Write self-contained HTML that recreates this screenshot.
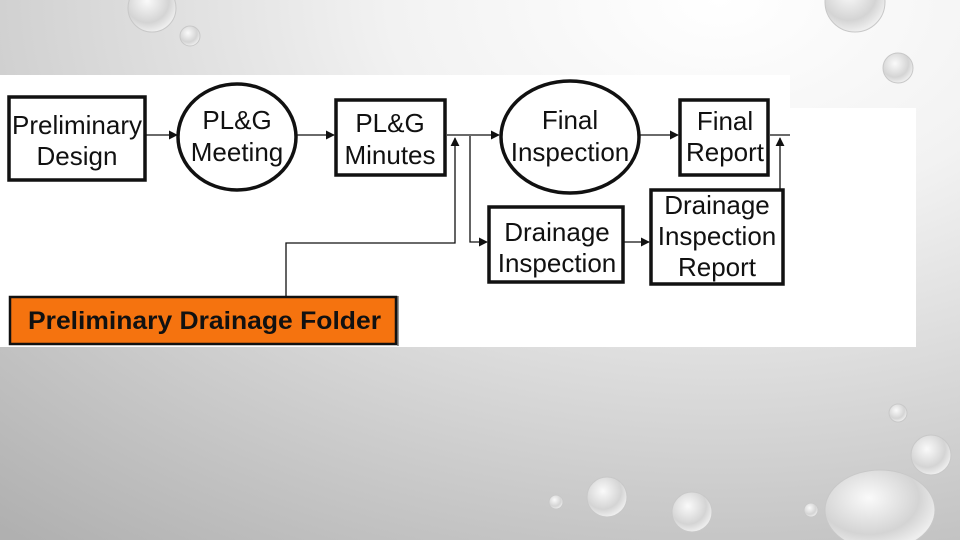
<!DOCTYPE html>
<html><head><meta charset="utf-8"><style>
html,body{margin:0;padding:0;width:960px;height:540px;overflow:hidden}
body{background:radial-gradient(ellipse 1100px 700px at 75% 0%, #ffffff 0%, #f2f2f2 30%, #d6d6d6 60%, #b0b0b0 100%);}
svg{position:absolute;left:0;top:0}
text{font-family:"Liberation Sans",sans-serif;fill:#111}
</style></head><body>
<svg width="960" height="540" viewBox="0 0 960 540">
<defs>
<radialGradient id="dr" cx="40%" cy="35%" r="65%"><stop offset="0" stop-color="#fafafa"/><stop offset="0.7" stop-color="#d4d4d4"/><stop offset="1" stop-color="#eeeeee"/></radialGradient>
<marker id="ah" viewBox="0 0 10 10" refX="9" refY="5" markerWidth="9" markerHeight="9" markerUnits="userSpaceOnUse" orient="auto"><path d="M0,0 L10,5 L0,10 z" fill="#111"/></marker>
</defs>
<g fill="url(#dr)" stroke="#c8c8c8" stroke-width="1">
<circle cx="190" cy="36" r="10"/><circle cx="152" cy="8" r="24"/><circle cx="898" cy="68" r="15"/><circle cx="855" cy="2" r="30"/>
<circle cx="898" cy="413" r="9"/><circle cx="931" cy="455" r="20"/><circle cx="607" cy="497" r="20"/><circle cx="692" cy="512" r="20"/>
<circle cx="556" cy="502" r="7"/><circle cx="811" cy="510" r="7"/><ellipse cx="880" cy="510" rx="55" ry="40"/>
</g>
<rect x="0" y="75" width="790" height="272" fill="#fff"/>
<rect x="790" y="108" width="126" height="239" fill="#fff"/>
<g fill="none" stroke="#111">
<rect x="9" y="97" width="136" height="83" stroke-width="3.5"/>
<ellipse cx="237" cy="137" rx="59" ry="53" stroke-width="3.5"/>
<rect x="336" y="100" width="109" height="75" stroke-width="3.5"/>
<ellipse cx="570" cy="137" rx="69" ry="56" stroke-width="3.5"/>
<rect x="680" y="100" width="88" height="75" stroke-width="3.5"/>
<rect x="489" y="207" width="134" height="75" stroke-width="3.5"/>
<rect x="651" y="190" width="132" height="94" stroke-width="3.5"/>
<g stroke-width="1.3">
<line x1="146" y1="135" x2="177" y2="135" marker-end="url(#ah)"/>
<line x1="296" y1="135" x2="334" y2="135" marker-end="url(#ah)"/>
<line x1="447" y1="135" x2="499" y2="135" marker-end="url(#ah)"/>
<line x1="639" y1="135" x2="678" y2="135" marker-end="url(#ah)"/>
<line x1="770" y1="135" x2="790" y2="135"/>
<polyline points="286,296 286,243 455,243 455,138" marker-end="url(#ah)"/>
<polyline points="470,136 470,242 487,242" marker-end="url(#ah)"/>
<line x1="624" y1="242" x2="649" y2="242" marker-end="url(#ah)"/>
<line x1="780" y1="189" x2="780" y2="138" marker-end="url(#ah)"/>
</g>
</g>
<rect x="10" y="297" width="386" height="47" fill="#f5730f" stroke="#111" stroke-width="2.5"/>
<line x1="398" y1="296" x2="398" y2="346" stroke="#333" stroke-width="1"/>
<text x="28" y="329" font-size="25" font-weight="bold" textLength="353" lengthAdjust="spacingAndGlyphs">Preliminary Drainage Folder</text>
<g font-size="26" text-anchor="middle">
<text x="77" y="134">Preliminary</text><text x="77" y="165">Design</text>
<text x="237" y="129">PL&amp;G</text><text x="237" y="161">Meeting</text>
<text x="390" y="132">PL&amp;G</text><text x="390" y="164">Minutes</text>
<text x="570" y="129">Final</text><text x="570" y="161">Inspection</text>
<text x="725" y="130">Final</text><text x="725" y="161">Report</text>
<text x="557" y="241">Drainage</text><text x="557" y="272">Inspection</text>
<text x="717" y="214">Drainage</text><text x="717" y="245">Inspection</text><text x="717" y="276">Report</text>
</g>
</svg>
</body></html>
